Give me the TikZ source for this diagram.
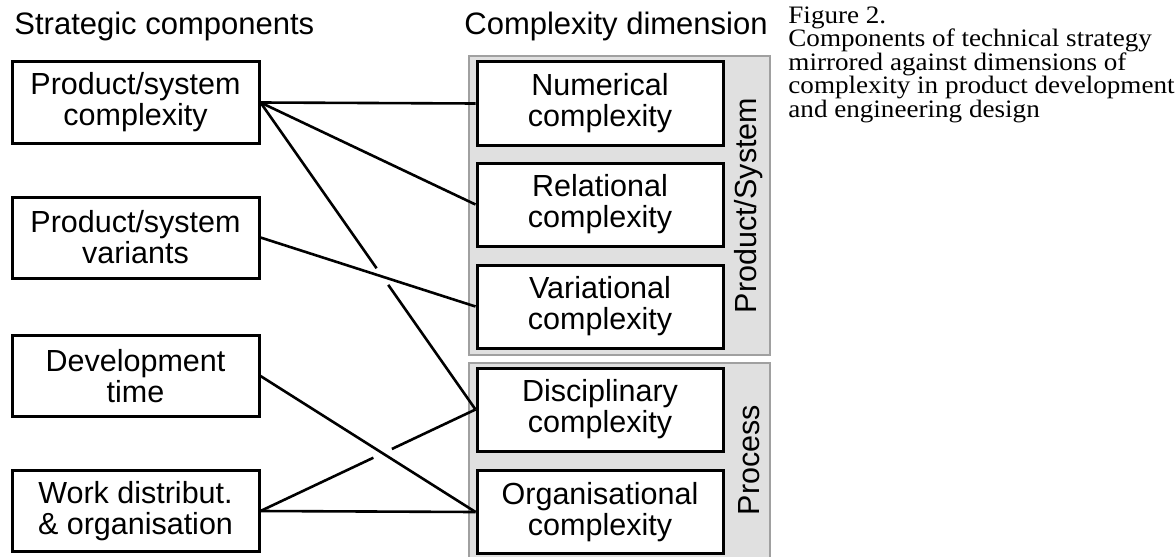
\documentclass[tikz,border=0pt]{standalone}
\usepackage{fontspec}
\setmainfont{Liberation Serif}[FakeStretch=1.08]
\newfontfamily\sansf{Liberation Sans}
\newcommand\boxfont{\sansf\fontsize{15.25}{15.5}\selectfont\lineskiplimit=-20pt\relax}
\newcommand\headfont{\sansf\fontsize{15.5}{16}\selectfont}
\newcommand\capfont{\rmfamily\fontsize{12.55}{11.75}\selectfont\lineskiplimit=-20pt\relax}
\definecolor{panelfill}{RGB}{224,224,224}
\definecolor{panelborder}{RGB}{160,160,160}
\begin{document}
\begin{tikzpicture}[x=0.5pt,y=-0.5pt,
  box/.style={draw, line width=1.5pt, fill=white, font=\boxfont, align=center, inner sep=0pt},
  lbox/.style={box, minimum width=123.5pt, minimum height=40.5pt},
  rbox/.style={box, minimum width=123pt, minimum height=41.5pt},
  panel/.style={draw=panelborder, fill=panelfill, line width=0.7pt, inner sep=0pt},
  plabel/.style={font=\boxfont, rotate=90, inner sep=0pt},
  head/.style={font=\headfont, anchor=base west, inner sep=0pt},
  link/.style={line width=1.3pt}
]
\useasboundingbox (0,0) rectangle (1176,556);
% panels
\node[panel, minimum width=150.5pt, minimum height=149.5pt] (psp) at (619.5,205.5) {};
\node[panel, minimum width=150.5pt, minimum height=97.5pt] (prp) at (619.5,460.5) {};
\node[plabel] (pslab) at (749,205.5) {Product/System};
\node[plabel] (prlab) at (749,460) {Process};
% headers
\node[head] (h1) at (14,35) {Strategic components};
\node[head] (h2) at (464,35) {Complexity dimension};
% caption
\node[font=\capfont, align=left, anchor=north west, inner sep=0pt] (cap) at (788,6)
  {Figure 2.\\Components of technical strategy\\mirrored against dimensions of\\complexity in product development\\and engineering design};
% left boxes
\node[lbox] (ps) at (135.5,102.5) {Product/system\\complexity};
\node[lbox] (pv) at (135.5,237.5) {Product/system\\variants};
\node[lbox] (dt) at (135.5,376) {Development\\time};
\node[lbox] (wd) at (135.5,511) {Work distribut.\\\& organisation};
% right boxes
\node[rbox] (num) at (600,103.5) {Numerical\\complexity};
\node[rbox] (rel) at (600,204.5) {Relational\\complexity};
\node[rbox] (var) at (600,306.5) {Variational\\complexity};
\node[rbox] (dis) at (600,409.5) {Disciplinary\\complexity};
\node[rbox] (org) at (600,512) {Organisational\\complexity};
% connectors
\draw[link] (ps.east) -- (num.west);
\draw[link] (ps.east) -- (rel.west);
\path (ps.east) -- (dis.west) coordinate[pos=0.54] (g1a) coordinate[pos=0.594] (g1b);
\draw[link] (ps.east) -- (g1a);
\draw[link] (g1b) -- (dis.west);
\draw[link] (pv.east) -- (var.west);
\draw[link] (dt.east) -- (org.west);
\path (wd.east) -- (dis.west) coordinate[pos=0.525] (g2a) coordinate[pos=0.611] (g2b);
\draw[link] (wd.east) -- (g2a);
\draw[link] (g2b) -- (dis.west);
\draw[link] (wd.east) -- (org.west);
\end{tikzpicture}
\end{document}
